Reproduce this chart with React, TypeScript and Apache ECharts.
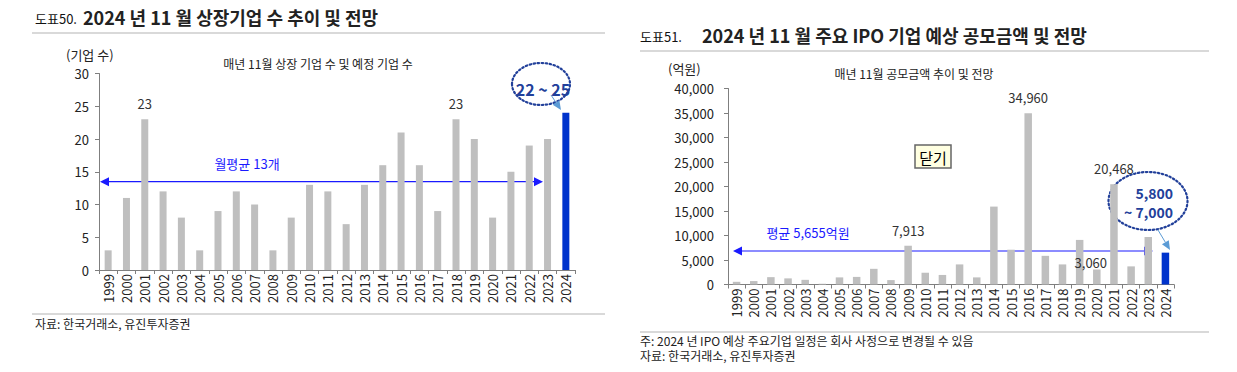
import React, { useEffect, useRef } from "react";
import * as echarts from "echarts";

// ---------- data ----------
const years = [
  "1999", "2000", "2001", "2002", "2003", "2004", "2005", "2006", "2007", "2008",
  "2009", "2010", "2011", "2012", "2013", "2014", "2015", "2016", "2017", "2018",
  "2019", "2020", "2021", "2022", "2023", "2024",
];
const forecastYear = "2024";
// 매년 11월 상장 기업 수 (2024 = 예정)
const listedCounts = [3, 11, 23, 12, 8, 3, 9, 12, 10, 3, 8, 13, 12, 7, 13, 16, 21, 16, 9, 23, 20, 8, 15, 19, 20, 24];
const listedLabeledYears = ["2001", "2018"];
// 매년 11월 공모금액 (억원)
const ipoAmounts = [550, 700, 1500, 1250, 950, 150, 1450, 1550, 3200, 900, 7913, 2400, 1950, 4100, 1450, 15900, 7100, 34960, 5850, 4100, 9100, 3060, 20468, 3700, 9700, 6500];
const ipoLabeledYears = ["2009", "2016", "2020", "2021"];

const leftYMax = 30;
const leftYInterval = 5;
const rightYMax = 40000;
const rightYInterval = 5000;

// ---------- styles ----------
const FONT = "'Noto Sans CJK KR', 'Noto Sans', sans-serif";
const GRAY = "#bfbfbf";
const BLUE_BAR = "#0033cc";
const ARROW_BLUE = "#1a1aff";
const DARK_BLUE = "#22409a";
const LIGHT_BLUE = "#5b9bd5";
const TEXT = "#222";

function headPoints(tipX: number, tipY: number, fromX: number, fromY: number, len: number, half: number) {
  const dx = tipX - fromX;
  const dy = tipY - fromY;
  const d = Math.sqrt(dx * dx + dy * dy) || 1;
  const ux = dx / d;
  const uy = dy / d;
  const bx = tipX - ux * len;
  const by = tipY - uy * len;
  const px = -uy * half;
  const py = ux * half;
  return [
    [tipX, tipY],
    [bx + px, by + py],
    [bx - px, by - py],
  ];
}

function doubleArrow(x1: number, x2: number, y: number, color: string) {
  return [
    { type: "line", shape: { x1: x1 + 4, y1: y, x2: x2 - 4, y2: y }, style: { stroke: color, lineWidth: 1.2 } },
    { type: "polygon", shape: { points: headPoints(x1, y, x2, y, 9, 4.5) }, style: { fill: color } },
    { type: "polygon", shape: { points: headPoints(x2, y, x1, y, 9, 4.5) }, style: { fill: color } },
  ];
}

function smallArrow(x1: number, y1: number, x2: number, y2: number, color: string) {
  const hp = headPoints(x2, y2, x1, y1, 9, 4);
  return [
    { type: "line", shape: { x1, y1, x2: (hp[1][0] + hp[2][0]) / 2, y2: (hp[1][1] + hp[2][1]) / 2 }, style: { stroke: color, lineWidth: 1 } },
    { type: "polygon", shape: { points: hp }, style: { fill: color } },
  ];
}

function txt(x: number, y: number, text: string, fontSize: number, fill: string, opts: any = {}) {
  return {
    type: "text",
    x,
    y,
    style: {
      text,
      fill,
      fontSize,
      fontFamily: FONT,
      fontWeight: opts.weight || "normal",
      align: opts.align || "left",
      verticalAlign: "middle",
    },
    z: 10,
  };
}

export default function App() {
  const ref = useRef<HTMLDivElement>(null);

  useEffect(() => {
    if (!ref.current) return;
    const chart = echarts.init(ref.current, null, { renderer: "svg" });

    const leftData = listedCounts.map((v, i) => ({
      value: v,
      itemStyle: { color: years[i] === forecastYear ? BLUE_BAR : GRAY },
      label: { show: listedLabeledYears.includes(years[i]) },
    }));
    const rightData = ipoAmounts.map((v, i) => {
      const item: any = {
        value: v,
        itemStyle: { color: years[i] === forecastYear ? BLUE_BAR : GRAY },
        label: { show: ipoLabeledYears.includes(years[i]) },
      };
      if (years[i] === "2020") item.label = { show: true, distance: 1, offset: [-6, 0] };
      return item;
    });

    const axisLineStyle = { lineStyle: { color: "#7f7f7f", width: 1 } };
    const xAxisBase = (gridIndex: number) => ({
      type: "category",
      gridIndex,
      data: years,
      axisLine: axisLineStyle,
      axisTick: { show: true, interval: 0, length: 4, lineStyle: { color: "#7f7f7f" } },
      axisLabel: { interval: 0, rotate: 90, fontSize: 13, color: TEXT, fontFamily: FONT, margin: 4 },
      splitLine: { show: false },
    });

    const graphics: any[] = [
      // left header
      txt(35, 18, "도표50.", 13, "#111"),
      txt(83, 17, "2024 년 11 월 상장기업 수 추이 및 전망", 18, TEXT, { weight: "bold" }),
      { type: "line", shape: { x1: 32, y1: 33, x2: 605, y2: 33 }, style: { stroke: "#b3b3b3", lineWidth: 1 } },
      txt(66, 54, "(기업 수)", 13, TEXT),
      txt(318, 63, "매년 11월 상장 기업 수 및 예정 기업 수", 12, TEXT, { align: "center" }),
      txt(247, 163, "월평균 13개", 13, ARROW_BLUE, { align: "center" }),
      ...doubleArrow(100, 543, 181.7, ARROW_BLUE),
      { type: "ellipse", shape: { cx: 541, cy: 84, rx: 29, ry: 21 }, style: { fill: "none", stroke: DARK_BLUE, lineWidth: 2.2, lineDash: [1.5, 2.5], lineCap: "round" } },
      txt(543, 89, "22 ~ 25", 16, DARK_BLUE, { weight: "bold", align: "center" }),
      ...smallArrow(551, 95, 561, 110, LIGHT_BLUE),
      { type: "line", shape: { x1: 32, y1: 314, x2: 605, y2: 314 }, style: { stroke: "#b3b3b3", lineWidth: 1 } },
      txt(35, 323, "자료: 한국거래소, 유진투자증권", 12, TEXT),

      // right header
      txt(640, 36, "도표51.", 13, "#111"),
      txt(702, 35, "2024 년 11 월 주요 IPO 기업 예상 공모금액 및 전망", 18, TEXT, { weight: "bold" }),
      { type: "line", shape: { x1: 640, y1: 51, x2: 1209, y2: 51 }, style: { stroke: "#b3b3b3", lineWidth: 1 } },
      txt(668, 68, "(억원)", 13, TEXT),
      txt(914, 73, "매년 11월 공모금액 추이 및 전망", 12, TEXT, { align: "center" }),
      { type: "rect", shape: { x: 915, y: 145, width: 36, height: 23 }, style: { fill: "#ffffe1", stroke: "#666", lineWidth: 1.5 }, z: 9 },
      txt(933, 157, "닫기", 15, "#000", { align: "center" }),
      txt(808, 232, "평균 5,655억원", 13, ARROW_BLUE, { align: "center" }),
      ...doubleArrow(733, 1153, 251, ARROW_BLUE),
      { type: "ellipse", shape: { cx: 1148, cy: 201, rx: 39.5, ry: 29 }, style: { fill: "none", stroke: DARK_BLUE, lineWidth: 2.2, lineDash: [1.5, 2.5], lineCap: "round" } },
      txt(1173, 193, "5,800", 14, DARK_BLUE, { weight: "bold", align: "right" }),
      txt(1173, 212, "~ 7,000", 14, DARK_BLUE, { weight: "bold", align: "right" }),
      ...smallArrow(1158, 230, 1170, 250, LIGHT_BLUE),
      { type: "line", shape: { x1: 640, y1: 332, x2: 1209, y2: 332 }, style: { stroke: "#b3b3b3", lineWidth: 1 } },
      txt(640, 340, "주: 2024 년 IPO 예상 주요기업 일정은 회사 사정으로 변경될 수 있음", 12, TEXT),
      txt(640, 355, "자료: 한국거래소, 유진투자증권", 12, TEXT),
    ];

    chart.setOption({
      animation: false,
      textStyle: { fontFamily: FONT },
      grid: [
        { left: 99, top: 73.5, width: 476, height: 196.5 },
        { left: 728, top: 88.5, width: 446, height: 196 },
      ],
      xAxis: [xAxisBase(0), xAxisBase(1)],
      yAxis: [
        {
          type: "value",
          gridIndex: 0,
          min: 0,
          max: leftYMax,
          interval: leftYInterval,
          axisLine: { show: true, ...axisLineStyle },
          axisTick: { show: true, length: 4, lineStyle: { color: "#7f7f7f" } },
          axisLabel: { fontSize: 13, color: TEXT, fontFamily: FONT, margin: 10 },
          splitLine: { show: false },
        },
        {
          type: "value",
          gridIndex: 1,
          min: 0,
          max: rightYMax,
          interval: rightYInterval,
          axisLine: { show: true, ...axisLineStyle },
          axisTick: { show: true, length: 4, lineStyle: { color: "#7f7f7f" } },
          axisLabel: {
            fontSize: 13,
            color: TEXT,
            fontFamily: FONT,
            margin: 14,
            formatter: (v: number) => v.toLocaleString("en-US"),
          },
          splitLine: { show: false },
        },
      ],
      series: [
        {
          type: "bar",
          xAxisIndex: 0,
          yAxisIndex: 0,
          data: leftData,
          barWidth: 7,
          label: { position: "top", distance: 9, fontSize: 13, color: "#333", fontFamily: FONT },
        },
        {
          type: "bar",
          xAxisIndex: 1,
          yAxisIndex: 1,
          data: rightData,
          barWidth: 7.5,
          label: {
            position: "top",
            distance: 9,
            fontSize: 13,
            color: "#333",
            fontFamily: FONT,
            formatter: (p: any) => Number(p.value).toLocaleString("en-US"),
          },
        },
      ],
      graphic: graphics,
    });

    return () => chart.dispose();
  }, []);

  return (
    <div
      ref={ref}
      style={{ position: "absolute", left: 0, top: 0, width: 1237, height: 372, background: "#fff" }}
    />
  );
}
